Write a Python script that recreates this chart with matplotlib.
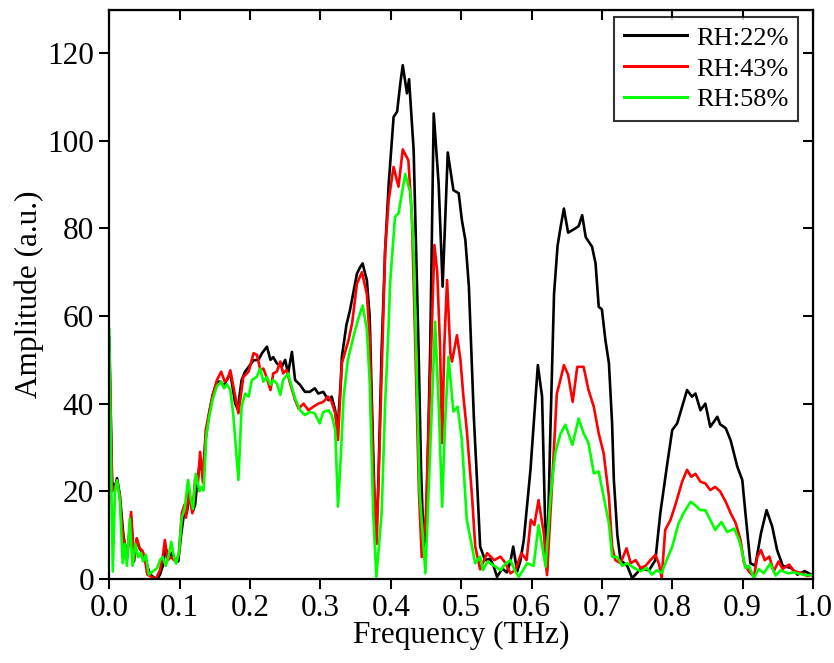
import matplotlib
matplotlib.use("Agg")
import matplotlib.pyplot as plt
import numpy as np

plt.rcParams['font.family'] = ['Liberation Serif', 'DejaVu Serif']
plt.rcParams['mathtext.fontset'] = 'stix'

labels = ["RH:22%", "RH:43%", "RH:58%"]
colors = ["#000000", "#ff0000", "#00ff00"]

f_22 = [0.000, 0.004, 0.008, 0.011, 0.015, 0.020, 0.025, 0.031, 0.035, 0.039, 0.043, 0.047, 0.050, 0.054, 0.058,
        0.064, 0.068, 0.072, 0.076, 0.080, 0.085, 0.089, 0.094, 0.098, 0.102, 0.107, 0.110, 0.114, 0.119, 0.122,
        0.125, 0.129, 0.133, 0.137, 0.142, 0.147, 0.153, 0.158, 0.163, 0.167, 0.172, 0.179, 0.1825, 0.188, 0.193,
        0.198, 0.205, 0.212, 0.217, 0.224, 0.229, 0.233, 0.238, 0.245, 0.250, 0.254, 0.2595, 0.264, 0.271, 0.278,
        0.285, 0.292, 0.297, 0.304, 0.3115, 0.316, 0.321, 0.3245, 0.329, 0.3305, 0.337, 0.342, 0.352, 0.356, 0.360,
        0.363, 0.366, 0.370, 0.374, 0.3785, 0.382, 0.387, 0.392, 0.397, 0.404, 0.409, 0.4135, 0.417, 0.423, 0.426,
        0.4325, 0.436, 0.4395, 0.443, 0.4467, 0.450, 0.456, 0.461, 0.468, 0.4737, 0.481, 0.489, 0.4965,
        0.501, 0.506, 0.511, 0.5155, 0.518, 0.5225, 0.527, 0.534, 0.541, 0.546, 0.551, 0.5585, 0.565, 0.570, 0.574,
        0.5795, 0.584, 0.589, 0.5985, 0.609, 0.615, 0.619, 0.622, 0.627, 0.632, 0.637, 0.641, 0.646, 0.652, 0.6625,
        0.667, 0.672, 0.677, 0.686, 0.691, 0.6955, 0.700, 0.705, 0.710, 0.7145, 0.717, 0.722, 0.7265, 0.736, 0.743,
        0.755, 0.767, 0.776, 0.783, 0.793, 0.800, 0.807, 0.814, 0.821, 0.828, 0.833, 0.840, 0.847, 0.854, 0.864,
        0.868, 0.876, 0.883, 0.8925, 0.8995, 0.904, 0.911, 0.918, 0.926, 0.934, 0.942, 0.949, 0.957, 0.969, 0.978,
        0.988, 1.000]
a_22 = [55, 22, 21, 23, 19, 10, 5, 14, 4, 9, 7, 6, 5, 3, 1,
        0.3, 0, 1, 3, 7, 5, 6, 4, 4, 10, 16, 15, 19, 15.5, 17,
        22, 27, 24, 32, 38, 42, 45, 45, 44, 45.5, 46.9, 40, 38.7, 45.4, 47.3,
        48.4, 49.9, 50, 51.5, 53, 50, 50.6, 49.2, 48.4, 50, 46.9, 51.8, 45.4, 44.3, 42.7,
        42.7, 43.5, 42.3, 42.7, 40.8, 41.6, 38.5, 34, 45.4, 50.7, 58, 61.3, 69.7, 71, 72,
        70, 68.2, 59.8, 35, 8.5, 20, 52.2, 75, 90, 105.4, 106.6, 113, 117.2, 110.8, 114,
        97.8, 75, 52.2, 25, 7.4, 10, 52.2, 106.2, 90.2, 66.7, 97.3, 88.7, 88,
        81.9, 77.3, 66.7, 47.7, 37, 22.6, 7.4, 4.3, 4.6, 3, 0.5, 2.4, 1.5, 4, 7.4,
        1.7, 4, 8.9, 24.9, 48.8, 41.6, 15, 2, 35, 65, 76, 80, 84.5, 79, 80,
        80.5, 83, 78, 75.8, 72, 62.1, 61.5, 54.5, 49.2, 35.5, 22.6, 10, 4.3, 3, 0.2,
        2.3, 2, 4.3, 15, 26.4, 34, 35.5, 39.3, 43.1, 41.6, 42.3, 38.5, 40, 34.7, 37,
        35.3, 34.4, 31.6, 25.6, 22.6, 15, 3.6, 3, 10.4, 15.7, 12, 6.6, 3, 2.5, 1,
        1.8, 0.8]

f_43 = [0.000, 0.004, 0.008, 0.011, 0.015, 0.018, 0.020, 0.025, 0.031, 0.035, 0.039, 0.043, 0.047, 0.050, 0.054,
        0.060, 0.066, 0.072, 0.076, 0.079, 0.083, 0.088, 0.092, 0.096, 0.099, 0.103, 0.107, 0.109, 0.113, 0.118,
        0.122, 0.126, 0.129, 0.133, 0.137, 0.142, 0.147, 0.153, 0.159, 0.164, 0.168, 0.172, 0.179, 0.1835, 0.1905,
        0.198, 0.205, 0.210, 0.2145, 0.219, 0.224, 0.229, 0.233, 0.238, 0.243, 0.247, 0.252, 0.257, 0.264, 0.269,
        0.276, 0.283, 0.290, 0.297, 0.304, 0.311, 0.316, 0.321, 0.325, 0.3305, 0.340, 0.345, 0.352, 0.359, 0.366,
        0.370, 0.375, 0.380, 0.384, 0.392, 0.397, 0.404, 0.411, 0.417, 0.425, 0.430, 0.435, 0.440, 0.444, 0.450,
        0.456, 0.462, 0.466, 0.470, 0.473, 0.476, 0.480, 0.4847, 0.487, 0.494, 0.499, 0.503, 0.508, 0.5155, 0.520,
        0.527, 0.537, 0.547, 0.556, 0.563, 0.570, 0.577, 0.5855, 0.593, 0.599, 0.604, 0.610, 0.6175, 0.622, 0.629,
        0.636, 0.641, 0.646, 0.652, 0.6585, 0.665, 0.674, 0.681, 0.6885, 0.6955, 0.7025, 0.710, 0.7145, 0.719, 0.7265,
        0.735, 0.741, 0.748, 0.755, 0.762, 0.769, 0.776, 0.781, 0.785, 0.790, 0.7975, 0.805, 0.814, 0.821, 0.827,
        0.833, 0.840, 0.847, 0.854, 0.861, 0.868, 0.876, 0.883, 0.890, 0.897, 0.902, 0.909, 0.916, 0.921, 0.926,
        0.9315, 0.938, 0.944, 0.951, 0.957, 0.966, 0.973, 0.983, 0.992, 1.000]
a_43 = [52, 20, 21, 22.5, 19, 12, 9.6, 4.5, 15.3, 4.3, 9.3, 7, 6.5, 5, 1,
        0.5, 0, 2, 5, 8.9, 4.3, 5, 4.3, 4.3, 6, 15, 17, 14, 20, 15,
        23, 22, 29, 22, 34, 38, 42, 45.4, 47.3, 45, 45.5, 47.6, 41.6, 37.8, 46.1,
        47.3, 51.5, 51.1, 47.7, 48, 45.8, 43.1, 46.9, 47.3, 49.6, 46.9, 47.7, 44.6, 40.8, 38.9,
        40, 38.5, 39.3, 40, 40.4, 41.6, 40.4, 37.8, 31.7, 49.2, 54.5, 58.3, 67.4, 70, 65,
        55, 25, 8, 30, 75, 86.4, 94, 89.5, 98, 95.5, 82.6, 52.2, 20, 5, 15,
        45.4, 76.2, 70, 53, 31, 53, 68.2, 51.5, 49.6, 55.6, 50, 42, 34, 18.8, 7.4,
        2.2, 5.9, 4.3, 5.1, 3.6, 1.3, 2, 5.9, 4.3, 13.5, 12.3, 18, 10.4, 0.9, 21,
        42.3, 45.4, 48.8, 46.6, 40.4, 48.4, 48.4, 43.1, 39.3, 33.2, 28.7, 18.8, 7.4, 4.3, 3.6,
        7, 3.6, 4.3, 2.5, 3, 4.3, 5.5, 3.5, 0.3, 11.2, 13.5, 17.2, 22.2, 24.9, 23.3,
        24, 22.2, 21.8, 20.3, 21, 20, 17.6, 15, 12.8, 8.9, 3.6, 1.7, 0.5, 5.1, 6.6,
        4.3, 5.1, 1.7, 4, 2.3, 3.3, 1.8, 1.4, 0.7, 1]

f_58 = [0.000, 0.003, 0.005, 0.008, 0.011, 0.015, 0.019, 0.022, 0.025, 0.029, 0.033, 0.037, 0.041, 0.045, 0.048,
        0.052, 0.056, 0.060, 0.064, 0.068, 0.072, 0.076, 0.080, 0.084, 0.088, 0.092, 0.095, 0.099, 0.103, 0.107,
        0.112, 0.116, 0.119, 0.123, 0.128, 0.131, 0.134, 0.138, 0.142, 0.147, 0.153, 0.159, 0.163, 0.167, 0.172,
        0.176, 0.1835, 0.188, 0.193, 0.198, 0.2025, 0.2095, 0.2145, 0.219, 0.224, 0.229, 0.233, 0.238, 0.243, 0.247,
        0.254, 0.2595, 0.264, 0.271, 0.278, 0.285, 0.292, 0.299, 0.304, 0.3115, 0.316, 0.321, 0.325, 0.329, 0.333,
        0.339, 0.348, 0.355, 0.360, 0.366, 0.370, 0.375, 0.3795, 0.387, 0.392, 0.397, 0.399, 0.406, 0.411, 0.4205,
        0.428, 0.4325, 0.436, 0.441, 0.4492, 0.455, 0.463, 0.468, 0.473, 0.477, 0.482, 0.489, 0.495, 0.501, 0.508,
        0.520, 0.527, 0.531, 0.5375, 0.547, 0.556, 0.563, 0.570, 0.576, 0.582, 0.594, 0.603, 0.610, 0.620, 0.627,
        0.634, 0.641, 0.648, 0.658, 0.667, 0.674, 0.681, 0.6885, 0.6955, 0.7025, 0.710, 0.7145, 0.722, 0.729, 0.736,
        0.746, 0.755, 0.764, 0.771, 0.778, 0.785, 0.793, 0.800, 0.809, 0.816, 0.826, 0.833, 0.840, 0.847, 0.854,
        0.861, 0.870, 0.878, 0.888, 0.895, 0.8995, 0.904, 0.909, 0.916, 0.923, 0.930, 0.939, 0.947, 0.954, 0.964,
        0.973, 0.988, 1.000]
a_58 = [57, 20, 1.7, 20, 22.5, 18, 3.6, 8, 3, 13.8, 3, 8, 5, 6, 4,
        5.5, 1, 1.5, 2, 2.5, 4.3, 5, 3, 5, 8.5, 5, 3.5, 6, 14, 16,
        22.6, 18, 16, 24, 20, 21, 20.2, 33, 37, 41, 44, 45, 43.5, 44.5, 43,
        37.8, 22.6, 39.3, 42.3, 41.6, 45.4, 46.1, 48, 45, 46.1, 44.3, 45.4, 44.6, 42, 45.4,
        46.9, 43.8, 41.2, 38.5, 37.4, 38.1, 37.8, 35.5, 38.1, 38.5, 37.4, 34, 16.5, 28, 41.6,
        50, 56, 60, 62.4, 57, 45, 15, 0.5, 15, 40, 58, 67.4, 82.6, 83.4, 92.4,
        88, 75, 52.2, 20, 1.3, 25, 58.7, 40, 16.5, 35, 50.7, 38.2, 39.3, 31.7, 13.5,
        3.6, 5.1, 2, 4, 3, 2, 3.5, 4.3, 2, 0.5, 3.6, 3, 12.3, 2.8, 18.8,
        29, 33, 35.2, 30.6, 36.6, 33.2, 31, 24.1, 24.5, 18.8, 12.7, 5.1, 5, 3, 3.6,
        2.5, 1.8, 2.5, 1, 2, 1.4, 4.7, 7.4, 12.7, 15, 17.6, 16.8, 15.7, 15.7, 13.5,
        11.2, 13, 10.7, 11.5, 8.9, 6, 2.5, 3, 0.2, 2.3, 1.3, 3.5, 0.8, 2, 1.3,
        1.5, 0.9, 0.9]

xticks = [0.0, 0.1, 0.2, 0.3, 0.4, 0.5, 0.6, 0.7, 0.8, 0.9, 1.0]
yticks = [0, 20, 40, 60, 80, 100, 120]

fig = plt.figure(figsize=(8.34, 6.63), dpi=100)
ax = fig.add_axes([109.3 / 834, 1 - 579 / 663, (813 - 109.3) / 834, (579 - 10) / 663])

series = [(f_22, a_22), (f_43, a_43), (f_58, a_58)]
for (fx, ay), lab, col in zip(series, labels, colors):
    ax.plot(fx, ay, color=col, lw=1.9, label=lab, solid_joinstyle='round')

ax.set_xlim(0, 1.0)
ax.set_ylim(0, 129.8)
ax.set_xticks(xticks)
ax.set_xticklabels([f"{v:.1f}" for v in xticks])
ax.set_yticks(yticks)
ax.set_yticklabels([str(v) for v in yticks])

fs = 22.5
ax.tick_params(axis='both', direction='out', length=7, width=1.5, labelsize=fs, pad=4)
for sp in ax.spines.values():
    sp.set_linewidth(1.6)

top = ax.secondary_xaxis('top')
top.set_xticks(xticks)
top.tick_params(direction='in', length=7, width=1.5, labeltop=False)
right = ax.secondary_yaxis('right')
right.set_yticks(yticks)
right.tick_params(direction='in', length=7, width=1.5, labelright=False)

ax.set_xlabel("Frequency (THz)", fontsize=fs, labelpad=-2)
ax.set_ylabel("Amplitude (a.u.)", fontsize=fs, labelpad=2)

leg = ax.legend(loc='upper right', bbox_to_anchor=(798 / 834, 1 - 17 / 663),
                bbox_transform=fig.transFigure, fontsize=19, frameon=True, fancybox=False,
                edgecolor='black', borderaxespad=0, handlelength=2.4, handletextpad=0.35,
                labelspacing=0.28, borderpad=0.35)
leg.get_frame().set_linewidth(1.5)
for line in leg.get_lines():
    line.set_linewidth(2.2)

fig.savefig("out.png", dpi=100)
